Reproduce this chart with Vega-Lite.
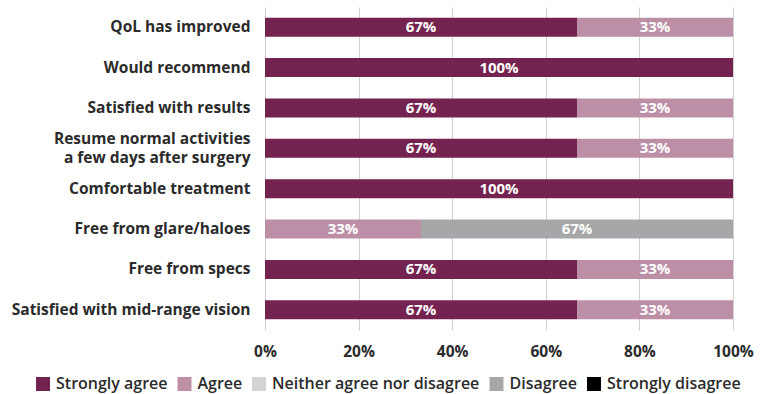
{
  "$schema": "https://vega.github.io/schema/vega-lite/v6.json",
  "autosize": "none",
  "width": 468,
  "height": 323,
  "padding": {"left": 265, "top": 7, "right": 32, "bottom": 64},
  "background": "white",
  "config": {
    "font": "Open Sans",
    "view": {"stroke": null}
  },
  "data": {
    "values": [
      {"q": "QoL has improved", "r": "Strongly agree", "o": 1, "v": 0.6667},
      {"q": "QoL has improved", "r": "Agree", "o": 2, "v": 0.3333},
      {"q": "Would recommend", "r": "Strongly agree", "o": 1, "v": 1.0},
      {"q": "Satisfied with results", "r": "Strongly agree", "o": 1, "v": 0.6667},
      {"q": "Satisfied with results", "r": "Agree", "o": 2, "v": 0.3333},
      {"q": "Resume normal activities a few days after surgery", "r": "Strongly agree", "o": 1, "v": 0.6667},
      {"q": "Resume normal activities a few days after surgery", "r": "Agree", "o": 2, "v": 0.3333},
      {"q": "Comfortable treatment", "r": "Strongly agree", "o": 1, "v": 1.0},
      {"q": "Free from glare/haloes", "r": "Agree", "o": 2, "v": 0.3333},
      {"q": "Free from glare/haloes", "r": "Disagree", "o": 4, "v": 0.6667},
      {"q": "Free from specs", "r": "Strongly agree", "o": 1, "v": 0.6667},
      {"q": "Free from specs", "r": "Agree", "o": 2, "v": 0.3333},
      {"q": "Satisfied with mid-range vision", "r": "Strongly agree", "o": 1, "v": 0.6667},
      {"q": "Satisfied with mid-range vision", "r": "Agree", "o": 2, "v": 0.3333}
    ]
  },
  "transform": [
    {"stack": "v", "groupby": ["q"], "sort": [{"field": "o"}], "as": ["v0", "v1"]},
    {"calculate": "(datum.v0 + datum.v1) / 2", "as": "mid"}
  ],
  "encoding": {
    "y": {
      "field": "q",
      "type": "nominal",
      "sort": null,
      "scale": {"paddingInner": 0, "paddingOuter": 0},
      "axis": {
        "title": null,
        "domain": false,
        "ticks": false,
        "labelFontSize": 15.5,
        "labelFontWeight": "bold",
        "labelColor": "#2b2b2b",
        "labelPadding": 15,
        "labelLimit": 300,
        "labelLineHeight": 19,
        "labelOffset": {"condition": {"test": "datum.value == 'Resume normal activities a few days after surgery'", "value": -9.5}, "value": 0},
        "labelExpr": "datum.label == 'Resume normal activities a few days after surgery' ? ['Resume normal activities', 'a few days after surgery'] : datum.label"
      }
    }
  },
  "layer": [
    {
      "mark": {"type": "bar", "height": 19},
      "encoding": {
        "x": {
          "field": "v0",
          "type": "quantitative",
          "scale": {"domain": [0, 1], "nice": false},
          "axis": {
            "title": null,
            "format": ".0%",
            "values": [0, 0.2, 0.4, 0.6, 0.8, 1],
            "domain": false,
            "ticks": false,
            "grid": true,
            "gridColor": "#d0d0d0",
            "gridWidth": 1,
            "labelFlush": false,
            "labelFontSize": 15.5,
            "labelFontWeight": "bold",
            "labelColor": "#2b2b2b",
            "labelPadding": 14
          }
        },
        "x2": {"field": "v1"},
        "color": {
          "field": "r",
          "type": "nominal",
          "scale": {
            "domain": ["Strongly agree", "Agree", "Neither agree nor disagree", "Disagree", "Strongly disagree"],
            "range": ["#74224F", "#BC8FA7", "#D3D3D3", "#A5A7A8", "#000000"]
          },
          "legend": {
            "title": null,
            "orient": "none",
            "direction": "horizontal",
            "legendX": -230,
            "legendY": 369,
            "symbolType": "square",
            "symbolSize": 196,
            "symbolStrokeWidth": 0,
            "labelFontSize": 16,
            "labelFontWeight": 600,
            "labelColor": "#2b2b2b",
            "labelOffset": 5,
            "columnPadding": 8.5,
            "labelLimit": 300
          }
        }
      }
    },
    {
      "mark": {"type": "text", "color": "white", "fontWeight": "bold", "fontSize": 15, "baseline": "middle"},
      "encoding": {
        "x": {"field": "mid", "type": "quantitative"},
        "text": {"field": "v", "type": "quantitative", "format": ".0%"}
      }
    }
  ]
}
